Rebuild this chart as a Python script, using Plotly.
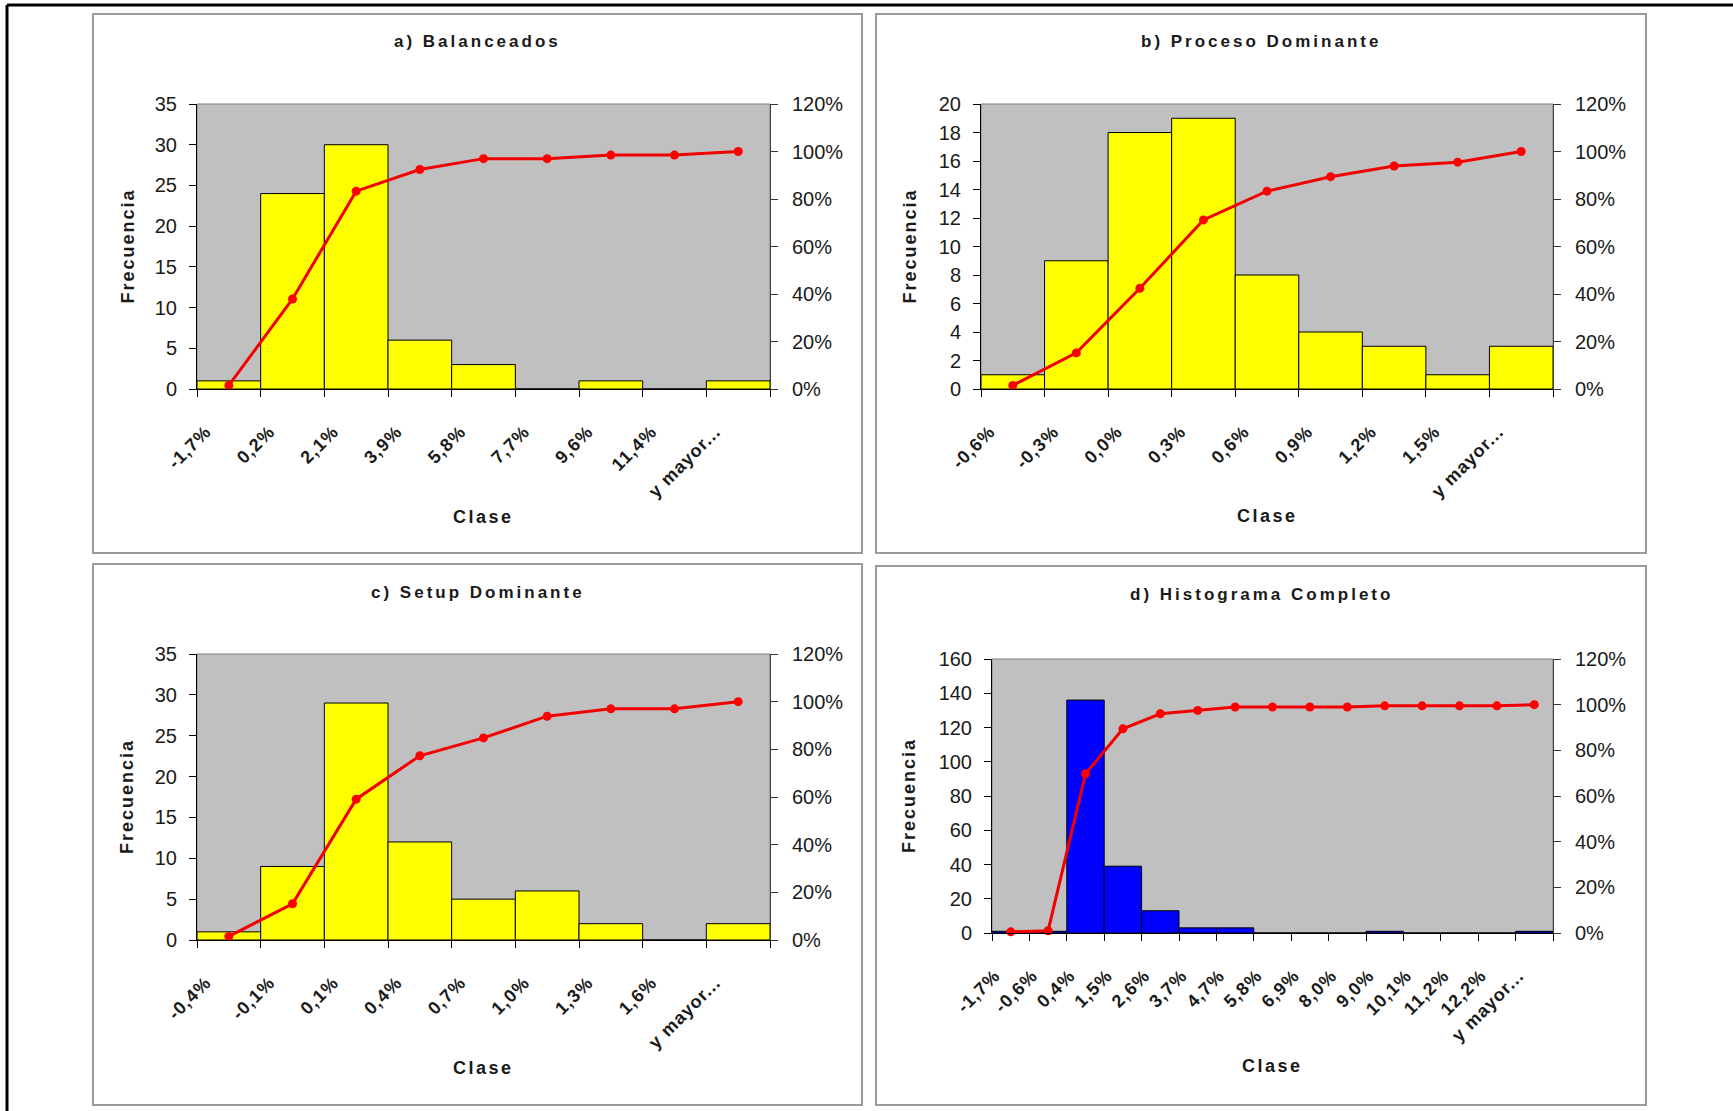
import plotly.graph_objects as go

W, H = 1733, 1111

# ---------------- data ----------------
cats_a = ["-1,7%", "0,2%", "2,1%", "3,9%", "5,8%", "7,7%", "9,6%", "11,4%", "y mayor..."]
freq_a = [1, 24, 30, 6, 3, 0, 1, 0, 1]
cum_a = [1.5, 37.9, 83.3, 92.4, 97.0, 97.0, 98.5, 98.5, 100.0]

cats_b = ["-0,6%", "-0,3%", "0,0%", "0,3%", "0,6%", "0,9%", "1,2%", "1,5%", "y mayor..."]
freq_b = [1, 9, 18, 19, 8, 4, 3, 1, 3]
cum_b = [1.5, 15.2, 42.4, 71.2, 83.3, 89.4, 93.9, 95.5, 100.0]

cats_c = ["-0,4%", "-0,1%", "0,1%", "0,4%", "0,7%", "1,0%", "1,3%", "1,6%", "y mayor..."]
freq_c = [1, 9, 29, 12, 5, 6, 2, 0, 2]
cum_c = [1.5, 15.2, 59.1, 77.3, 84.8, 93.9, 97.0, 97.0, 100.0]

cats_d = ["-1,7%", "-0,6%", "0,4%", "1,5%", "2,6%", "3,7%", "4,7%", "5,8%",
          "6,9%", "8,0%", "9,0%", "10,1%", "11,2%", "12,2%", "y mayor..."]
freq_d = [1, 1, 136, 39, 13, 3, 3, 0, 0, 0, 1, 0, 0, 0, 1]
cum_d = [0.5, 1.0, 69.7, 89.4, 96.0, 97.5, 99.0, 99.0, 99.0, 99.0, 99.5, 99.5, 99.5, 99.5, 100.0]

titles = ["a) Balanceados", "b) Proceso Dominante", "c) Setup Dominante", "d) Histograma Completo"]
y_max = [35, 20, 35, 160]
y_dtick = [5, 2, 5, 20]
pct_ticks = [0, 20, 40, 60, 80, 100, 120]

# ---------------- layout geometry (pixels) ----------------
panels = [
    dict(cats=cats_a, freq=freq_a, cum=cum_a, color="#FFFF00",
         box=(93, 14, 862, 553), plot=(197, 104, 770, 389), ty=42, cy=517, fx=127, shift=9),
    dict(cats=cats_b, freq=freq_b, cum=cum_b, color="#FFFF00",
         box=(876, 14, 1646, 553), plot=(981, 104, 1553, 389), ty=42, cy=516, fx=909, shift=9),
    dict(cats=cats_c, freq=freq_c, cum=cum_c, color="#FFFF00",
         box=(93, 564, 862, 1105), plot=(197, 654, 770, 940), ty=592, cy=1068, fx=127, shift=9),
    dict(cats=cats_d, freq=freq_d, cum=cum_d, color="#0000FF",
         box=(876, 566, 1646, 1105), plot=(992, 659, 1553, 933), ty=594, cy=1066, fx=909, shift=3),
]

FONT = "Liberation Sans, Arial, sans-serif"
TXT = "#1a1a1a"

fig = go.Figure()
layout = dict(
    template="none",
    width=W, height=H,
    margin=dict(l=0, r=0, t=0, b=0, pad=0),
    paper_bgcolor="white",
    plot_bgcolor="rgba(0,0,0,0)",
    showlegend=False,
    font=dict(family=FONT, color=TXT),
    shapes=[], annotations=[],
)


def px_x(v):
    return v / W


def px_y(v):
    return 1 - v / H


for k, p in enumerate(panels):
    n = len(p["cats"])
    xa = "x" if k == 0 else f"x{k+1}"
    ya = "y" if k == 0 else f"y{2*k+1}"
    ya2 = f"y{2*k+2}"
    xkey = "xaxis" if k == 0 else f"xaxis{k+1}"
    ykey = "yaxis" if k == 0 else f"yaxis{2*k+1}"
    y2key = f"yaxis{2*k+2}"
    x0, y0, x1, y1 = p["plot"]

    fig.add_trace(go.Bar(
        x=[i + 0.5 for i in range(n)], y=p["freq"], width=[1] * n,
        marker=dict(color=p["color"], line=dict(color="black", width=1)),
        xaxis=xa, yaxis=ya, hoverinfo="skip",
    ))
    fig.add_trace(go.Scatter(
        x=[i + 0.5 for i in range(n)], y=[c / 100 for c in p["cum"]],
        mode="lines+markers",
        line=dict(color="#F00000", width=3),
        marker=dict(color="#FF0000", size=9),
        xaxis=xa, yaxis=ya2, hoverinfo="skip", cliponaxis=False,
    ))

    ticktext = [f'<span style="letter-spacing:1px">{c}</span>' for c in p["cats"]] + [""]
    layout[xkey] = dict(
        domain=[px_x(x0), px_x(x1)], anchor=ya, range=[0, n], automargin=False,
        tickmode="array", tickvals=list(range(n + 1)), ticktext=ticktext,
        ticks="outside", ticklen=7, tickcolor="black", tickwidth=1,
        tickangle=-45, tickfont=dict(family=FONT, size=18, weight="bold", color=TXT),
        ticklabelstandoff=17, ticklabelshift=p["shift"],
        showline=True, linecolor="black", linewidth=1,
        showgrid=False, zeroline=False, fixedrange=True,
    )
    layout[ykey] = dict(
        domain=[px_y(y1), px_y(y0)], anchor=xa, range=[0, y_max[k]], automargin=False,
        tickmode="linear", tick0=0, dtick=y_dtick[k],
        ticks="outside", ticklen=7, tickcolor="black",
        tickfont=dict(family=FONT, size=20, color=TXT),
        ticklabelstandoff=8,
        showline=True, linecolor="black", linewidth=1,
        showgrid=False, zeroline=False, fixedrange=True,
    )
    layout[y2key] = dict(
        domain=[px_y(y1), px_y(y0)], anchor=xa, overlaying=ya, side="right",
        range=[0, 1.2], automargin=False, tickmode="array",
        tickvals=[t / 100 for t in pct_ticks],
        ticktext=[f"{t}%" for t in pct_ticks],
        ticks="outside", ticklen=7, tickcolor="#333333",
        tickfont=dict(family=FONT, size=20, color=TXT),
        ticklabelstandoff=10,
        showline=True, linecolor="#404040", linewidth=1,
        showgrid=False, zeroline=False, fixedrange=True,
    )

    # plot area background (gray)
    layout["shapes"].append(dict(
        type="rect", xref="paper", yref="paper", layer="below",
        x0=px_x(x0), x1=px_x(x1), y0=px_y(y1), y1=px_y(y0),
        fillcolor="#C0C0C0", line=dict(color="#808080", width=1),
    ))
    # chart area border
    bx0, by0, bx1, by1 = p["box"]
    layout["shapes"].append(dict(
        type="rect", xref="paper", yref="paper", layer="below",
        x0=px_x(bx0), x1=px_x(bx1), y0=px_y(by1), y1=px_y(by0),
        line=dict(color="#9a9a9a", width=2), fillcolor="rgba(0,0,0,0)",
    ))
    # title
    layout["annotations"].append(dict(
        xref="paper", yref="paper", x=px_x((bx0 + bx1) / 2), y=px_y(p["ty"]),
        xanchor="center", yanchor="middle", showarrow=False,
        text=f'<span style="letter-spacing:3px">{titles[k]}</span>',
        font=dict(family=FONT, size=17, weight="bold", color=TXT),
    ))
    # x title
    layout["annotations"].append(dict(
        xref="paper", yref="paper", x=px_x((x0 + x1) / 2), y=px_y(p["cy"]),
        xanchor="center", yanchor="middle", showarrow=False,
        text='<span style="letter-spacing:2.5px">Clase</span>',
        font=dict(family=FONT, size=18, weight="bold", color=TXT),
    ))
    # y title
    layout["annotations"].append(dict(
        xref="paper", yref="paper", x=px_x(p["fx"]), y=px_y((y0 + y1) / 2),
        xanchor="center", yanchor="middle", showarrow=False, textangle=-90,
        text='<span style="letter-spacing:2px">Frecuencia</span>',
        font=dict(family=FONT, size=18, weight="bold", color=TXT),
    ))

# outer frame (top and left edges)
layout["shapes"].append(dict(type="line", xref="paper", yref="paper",
                             x0=px_x(7), x1=1, y0=px_y(5), y1=px_y(5),
                             line=dict(color="black", width=3)))
layout["shapes"].append(dict(type="line", xref="paper", yref="paper",
                             x0=px_x(7), x1=px_x(7), y0=0, y1=px_y(5),
                             line=dict(color="black", width=3)))

fig.update_layout(**layout)
fig.write_html("out.html", config={"displayModeBar": False},
               post_script="document.body.style.margin='0px';")
